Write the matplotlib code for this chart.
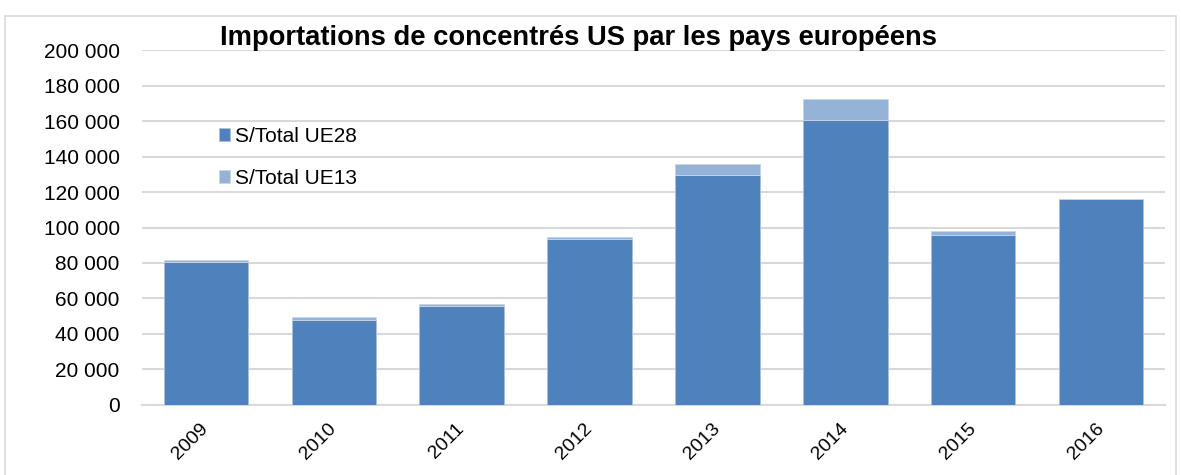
import matplotlib.pyplot as plt
import numpy as np
from matplotlib.patches import Rectangle
from matplotlib.ticker import FuncFormatter

plt.rcParams["font.family"] = ["Liberation Sans", "DejaVu Sans"]

years = ["2009", "2010", "2011", "2012", "2013", "2014", "2015", "2016"]
ue28 = [80700, 48100, 56000, 93500, 129300, 160400, 95900, 116000]
ue13 = [1000, 1400, 1100, 1100, 6200, 12200, 2100, 0]

fig = plt.figure(figsize=(11.81, 4.75), dpi=100)
ax = fig.add_axes([0.1202, 0.1474, 0.8663, 0.7473])

x = np.arange(len(years))
ax.bar(x, ue28, width=0.66, color="#4F81BD", edgecolor="#A9C0DE", linewidth=0.6,
       label="S/Total UE28", zorder=3)
ax.bar(x, ue13, width=0.66, bottom=ue28, color="#95B3D7", edgecolor="#C6D5EA",
       linewidth=0.6, label="S/Total UE13", zorder=3)

ax.set_xlim(-0.5, len(years) - 0.5)
ax.set_ylim(0, 200000)
ax.set_yticks(np.arange(0, 200001, 20000))
ax.yaxis.set_major_formatter(FuncFormatter(lambda v, p: f"{int(v):,}".replace(",", " ")))
ax.set_xticks(x)
ax.set_xticklabels(years, rotation=45, ha="right", va="center", rotation_mode="anchor")
ax.tick_params(axis="y", length=0, labelsize=15, pad=16)
ax.tick_params(axis="x", length=0, labelsize=14, pad=15)

ax.grid(axis="y", color="#D9D9D9", linewidth=1.5, zorder=0)
for s in ["top", "right", "left"]:
    ax.spines[s].set_visible(False)
ax.spines["bottom"].set_color("#D9D9D9")
ax.spines["bottom"].set_linewidth(1.5)

ax.text(0.427, 1.034, "Importations de concentrés US par les pays européens",
        transform=ax.transAxes, ha="center", va="center", fontsize=19.7,
        fontweight="bold")

leg = ax.legend(loc="upper left", bbox_to_anchor=(0.075, 0.783), frameon=False,
                fontsize=15, handlelength=0.55, handleheight=0.55, handletextpad=0.25,
                labelspacing=1.1, borderpad=0, borderaxespad=0)

fig.patches.append(Rectangle((0.004, -0.05), 0.992, 1.016, transform=fig.transFigure,
                             fill=False, edgecolor="#D9D9D9", linewidth=1.2))

fig.savefig("out.png", dpi=100)
